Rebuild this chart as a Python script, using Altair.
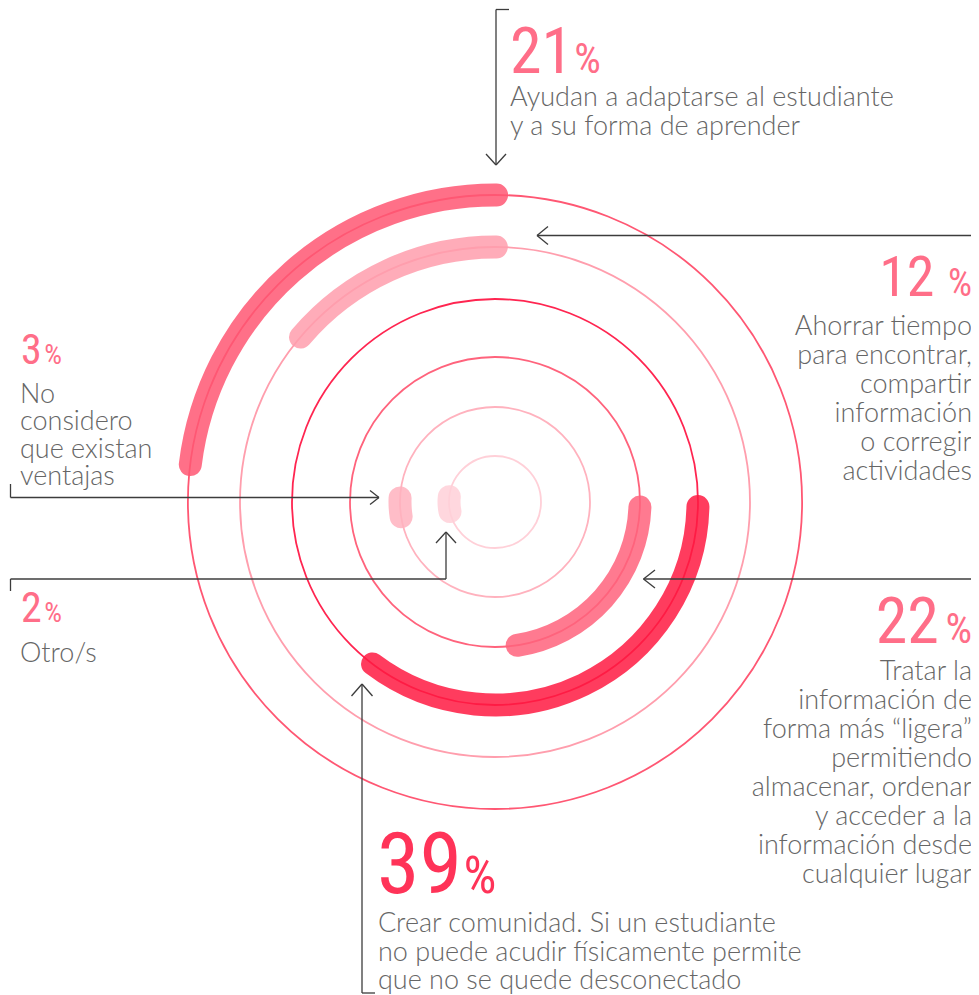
import altair as alt
import pandas as pd

# ---------------- data ----------------
pcts = [21, 12, 39, 22, 3, 2]
labels = [
    ["Ayudan a adaptarse al estudiante", "y a su forma de aprender"],
    ["Ahorrar tiempo", "para encontrar,", "compartir", "información", "o corregir", "actividades"],
    ["Crear comunidad. Si un estudiante", "no puede acudir físicamente permite", "que no se quede desconectado"],
    ["Tratar la", "información de", "forma más “ligera”", "permitiendo", "almacenar, ordenar",
     "y acceder a la", "información desde", "cualquier lugar"],
    ["No", "considero", "que existan", "ventajas"],
    ["Otro/s"],
]
ring_of = [5, 4, 3, 2, 1, 0]                                  # ring index (0 = innermost)
arc_start = [277.0, 310.3, 91.3, 92.0, 261.1, 258.0]           # degrees, clockwise from 12 o'clock
arc_end = [360.3, 360.3, 217.1, 171.2, 272.4, 276.6]
rings = [0, 1, 2, 3, 4, 5]

# ---------------- styles / layout ----------------
arc_colors = ["#ff5773", "#ff9ead", "#ff1a42", "#ff637c", "#ffb2be", "#ffd0d8"]
ring_colors = ["#ffd0d8", "#ffb2be", "#ff637c", "#ff2550", "#ff9ead", "#ff5773"]
num_colors = ["#ff6e88", "#ff6e88", "#ff3358", "#ff6e88", "#ff6e88", "#ff6e88"]
W, H = 963, 987
CX, CY = 495, 502
NUM_FONT = "Liberation Sans Narrow, Roboto Condensed, DejaVu Sans Condensed, sans-serif"
BODY_FONT = "Lato, Open Sans, sans-serif"
BODY_SIZE = 27
BODY_COLOR = "#666666"
LINE_COLOR = "#3c3c3c"

layout = [
    dict(align="left", nx=510, ny=73, nsize=64, psize=42, gap=6, bx=510, by=106, lh=29),
    dict(align="right", nx=972, ny=296, nsize=56, psize=38, gap=14, bx=972, by=335, lh=29),
    dict(align="left", nx=377, ny=893, nsize=86, psize=52, gap=8, bx=378, by=932, lh=28.5),
    dict(align="right", nx=972, ny=643, nsize=64, psize=42, gap=7, bx=972, by=680, lh=29),
    dict(align="left", nx=21, ny=364, nsize=42, psize=28, gap=4, bx=20, by=403, lh=27.3),
    dict(align="left", nx=21, ny=622, nsize=42, psize=28, gap=4, bx=20, by=662, lh=27.3),
]

segments = [
    # 21 %
    (509, 9.5, 496, 9.5), (496, 9.5, 496, 165), (486, 154, 496, 165), (506, 154, 496, 165),
    # 12 %
    (979, 235.5, 537, 235.5), (548, 226.5, 537, 235.5), (548, 244.5, 537, 235.5),
    # 3 %
    (10.5, 484, 10.5, 497.5), (10.5, 497.5, 379, 497.5), (370, 490.5, 379, 497.5), (370, 504.5, 379, 497.5),
    # 2 %
    (10.5, 591, 10.5, 579), (10.5, 579, 446, 579), (446, 579, 446, 532), (436, 543, 446, 532), (456, 543, 446, 532),
    # 22 %
    (979, 579, 643.5, 579), (655, 570, 643.5, 579), (655, 588, 643.5, 579),
    # 39 %
    (375, 993, 362, 993), (362, 993, 362, 684), (351.5, 696, 362, 684), (372.5, 696, 362, 684),
]

# ---------------- tables ----------------
xs = alt.Scale(domain=[8, 8 + W], range=[0, W])
ys = alt.Scale(domain=[8, 8 + H], range=[0, H])
ts = alt.Scale(domain=[0, 360], range=[0, 6.283185307179586])
rs = alt.Scale(type="linear", domain=[0, 1, 2, 3, 4, 5], range=[46, 95, 145, 203, 255, 307])

ring_df = pd.DataFrame({"ring": rings, "start": 0.0, "end": 360.0, "cx": CX, "cy": CY, "color": ring_colors})
arc_df = pd.DataFrame({"ring": ring_of, "start": arc_start, "end": arc_end, "cx": CX, "cy": CY,
                       "color": arc_colors, "pct": pcts})
seg_df = pd.DataFrame(segments, columns=["x", "y", "x2", "y2"])

num_rows = {"left": [], "right": []}
body_rows = {"left": [], "right": []}
for i, p in enumerate(pcts):
    L = layout[i]
    digits = len(str(p))
    if L["align"] == "left":
        num_rows["left"].append(dict(x=L["nx"], y=L["ny"], t=str(p), s=L["nsize"], c=num_colors[i]))
        px = L["nx"] + digits * 0.456 * L["nsize"] + L["gap"]
        num_rows["left"].append(dict(x=px, y=L["ny"], t="%", s=L["psize"], c=num_colors[i]))
    else:
        num_rows["right"].append(dict(x=L["nx"], y=L["ny"], t="%", s=L["psize"], c=num_colors[i]))
        nx = L["nx"] - 0.62 * L["psize"] - L["gap"]
        num_rows["right"].append(dict(x=nx, y=L["ny"], t=str(p), s=L["nsize"], c=num_colors[i]))
    for k, line in enumerate(labels[i]):
        body_rows[L["align"]].append(dict(x=L["bx"], y=L["by"] + k * L["lh"], t=line))

# ---------------- layers ----------------
pos = dict(x=alt.X("cx:Q", scale=xs, axis=None), y=alt.Y("cy:Q", scale=ys, axis=None))

ring_layer = alt.Chart(ring_df).mark_arc(filled=False, strokeWidth=1.8).encode(
    **pos,
    theta=alt.Theta("start:Q", scale=ts, stack=False), theta2="end:Q",
    radius=alt.Radius("ring:Q", scale=rs), radius2=alt.Radius2("ring:Q"),
    color=alt.Color("color:N", scale=None),
)

arc_layer = alt.Chart(arc_df).mark_arc(filled=False, strokeWidth=23, strokeJoin="round", opacity=0.85).encode(
    **pos,
    theta=alt.Theta("start:Q", scale=ts, stack=False), theta2="end:Q",
    radius=alt.Radius("ring:Q", scale=rs), radius2=alt.Radius2("ring:Q"),
    color=alt.Color("color:N", scale=None),
)

seg_layer = alt.Chart(seg_df).mark_rule(color=LINE_COLOR, strokeWidth=1.3).encode(
    x=alt.X("x:Q", scale=xs, axis=None), y=alt.Y("y:Q", scale=ys, axis=None),
    x2="x2:Q", y2="y2:Q",
)


def text_layer(rows, align, font, weight, body):
    df = pd.DataFrame(rows)
    enc = dict(x=alt.X("x:Q", scale=xs, axis=None), y=alt.Y("y:Q", scale=ys, axis=None), text="t:N")
    if body:
        mk = alt.Chart(df).mark_text(align=align, baseline="alphabetic", font=font, fontWeight=weight,
                                     fontSize=BODY_SIZE, color=BODY_COLOR)
    else:
        mk = alt.Chart(df).mark_text(align=align, baseline="alphabetic", font=font, fontWeight=weight)
        enc["size"] = alt.Size("s:Q", scale=None)
        enc["color"] = alt.Color("c:N", scale=None)
    return mk.encode(**enc)


layers = [ring_layer, arc_layer, seg_layer,
          text_layer(num_rows["left"], "left", NUM_FONT, 400, False),
          text_layer(num_rows["right"], "right", NUM_FONT, 400, False),
          text_layer(body_rows["left"], "left", BODY_FONT, 300, True),
          text_layer(body_rows["right"], "right", BODY_FONT, 300, True)]

chart = alt.layer(*layers).properties(
    width=W, height=H, padding=0, autosize=alt.AutoSizeParams(type="none")
).configure_view(stroke=None)

chart.save("out.html", embed_options={"renderer": "svg", "actions": False})
